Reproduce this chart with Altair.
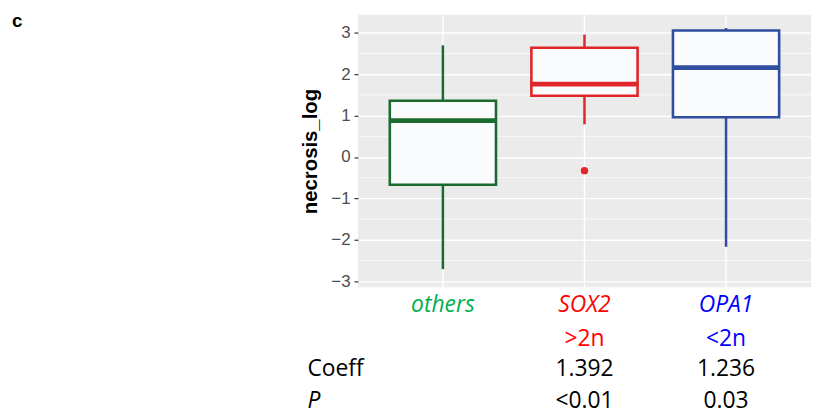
import altair as alt
import pandas as pd

# ---- data ----
categories = ["others", "SOX2", "OPA1"]
lower_whisker = [-2.71, 0.79, -2.17]
q1 = [-0.67, 1.48, 0.96]
median = [0.88, 1.76, 2.16]
q3 = [1.36, 2.64, 3.06]
upper_whisker = [2.70, 2.96, 3.12]

outlier_cat = ["SOX2"]
outlier_val = [-0.33]

copy_labels = ["", ">2n", "<2n"]
coeff_values = ["", "1.392", "1.236"]
p_values = ["", "<0.01", "0.03"]
row_names = ["Coeff", "P"]

y_ticks = [-3, -2, -1, 0, 1, 2, 3]
minor_ticks = [-2.5, -1.5, -0.5, 0.5, 1.5, 2.5]

# ---- styles ----
box_colors = ["#1b6a2e", "#e0262a", "#2f4ea0"]
text_colors = ["#00b050", "#ff0000", "#0000ff"]
FONT = "Open Sans"
TFS = 23

stats = pd.DataFrame({
    "cat": categories, "lw": lower_whisker, "q1": q1,
    "med": median, "q3": q3, "uw": upper_whisker,
})
outliers = pd.DataFrame({"cat": outlier_cat, "v": outlier_val})
minor_df = pd.DataFrame({"v": minor_ticks})
table = pd.DataFrame({"cat": categories, "copy": copy_labels,
                      "coeff": coeff_values, "p": p_values})

xscale = alt.Scale(domain=categories, paddingInner=0.25, paddingOuter=0.225)
yscale = alt.Scale(domain=[-3.15, 3.44], nice=False, zero=False)
box_color = alt.Color("cat:N", scale=alt.Scale(domain=categories, range=box_colors), legend=None)
txt_color = alt.Color("cat:N", scale=alt.Scale(domain=categories, range=text_colors), legend=None)

X = alt.X("cat:N", scale=xscale, axis=None, sort=categories)

yaxis = alt.Axis(values=y_ticks, grid=True, gridColor="white", gridWidth=1.4,
                 domain=False, tickColor="#333333", tickSize=4, tickWidth=1.2,
                 labelPadding=4, title="necrosis_log", titlePadding=10)


def Y(field):
    return alt.Y(field, scale=yscale, axis=yaxis, title="necrosis_log")


def YD(v):
    return alt.YDatum(v, scale=yscale, axis=yaxis, title="necrosis_log")


minor_grid = alt.Chart(minor_df).mark_rule(color="white", strokeWidth=0.7).encode(
    y=Y("v:Q")
)

vgrid = alt.Chart(stats).mark_rule(color="white", strokeWidth=1.4).encode(
    x=X, y=YD(-3.15), y2=alt.datum(3.44)
)

whiskers = alt.Chart(stats).mark_rule(strokeWidth=2.5).encode(
    x=X, y=Y("lw:Q"), y2="uw:Q", color=box_color
)

boxes = alt.Chart(stats).mark_bar(fill="#fafbfc", strokeWidth=2.6).encode(
    x=X, y=Y("q1:Q"), y2="q3:Q",
    stroke=alt.Stroke("cat:N", scale=alt.Scale(domain=categories, range=box_colors), legend=None)
)

medians = alt.Chart(stats).mark_tick(thickness=4.8, size=109, opacity=1).encode(
    x=X, y=Y("med:Q"), color=box_color
)

out_pts = alt.Chart(outliers).mark_circle(size=55, opacity=1).encode(
    x=X, y=Y("v:Q"), color=box_color
)

cat_text = alt.Chart(table).mark_text(font=FONT, fontSize=TFS, fontStyle="italic",
                                      baseline="alphabetic").encode(
    x=X, y=YD(-3.742), text="cat:N", color=txt_color
)
copy_text = alt.Chart(table).mark_text(font=FONT, fontSize=TFS,
                                       baseline="alphabetic").encode(
    x=X, y=YD(-4.557), text="copy:N", color=txt_color
)
coeff_text = alt.Chart(table).mark_text(font=FONT, fontSize=TFS, color="black",
                                        baseline="alphabetic").encode(
    x=X, y=YD(-5.30), text="coeff:N"
)
p_text = alt.Chart(table).mark_text(font=FONT, fontSize=TFS, color="black",
                                    baseline="alphabetic").encode(
    x=X, y=YD(-6.07), text="p:N"
)
coeff_name = alt.Chart(pd.DataFrame({"t": [row_names[0]]})).mark_text(
    font=FONT, fontSize=TFS, color="black", align="left", baseline="alphabetic").encode(
    x=alt.value(-51), y=YD(-5.30), text="t:N")
p_name = alt.Chart(pd.DataFrame({"t": [row_names[1]]})).mark_text(
    font=FONT, fontSize=TFS, color="black", align="left", fontStyle="italic",
    baseline="alphabetic").encode(
    x=alt.value(-51), y=YD(-6.07), text="t:N")
panel_letter = alt.Chart(pd.DataFrame({"t": ["c"]})).mark_text(
    font="Liberation Sans", fontSize=19, fontWeight="bold", color="black",
    align="left", baseline="alphabetic").encode(
    x=alt.value(-349), y=alt.value(12), text="t:N")

chart = alt.layer(
    minor_grid, vgrid, whiskers, boxes, medians, out_pts,
    cat_text, copy_text, coeff_text, p_text, coeff_name, p_name, panel_letter
).resolve_scale(color="independent").properties(
    width=457, height=275,
    autosize="none",
    padding={"left": 353, "top": 5, "right": 0, "bottom": 128},
).configure_view(fill="#ebebeb", stroke=None).configure_axisY(
    labelColor="#4d4d4d", labelFont="Liberation Sans", labelFontSize=17,
    titleFont="Liberation Sans", titleFontSize=20.5, titleFontWeight="bold",
    titleColor="black"
)

chart.save("out.html", embed_options={"renderer": "svg", "actions": False})
